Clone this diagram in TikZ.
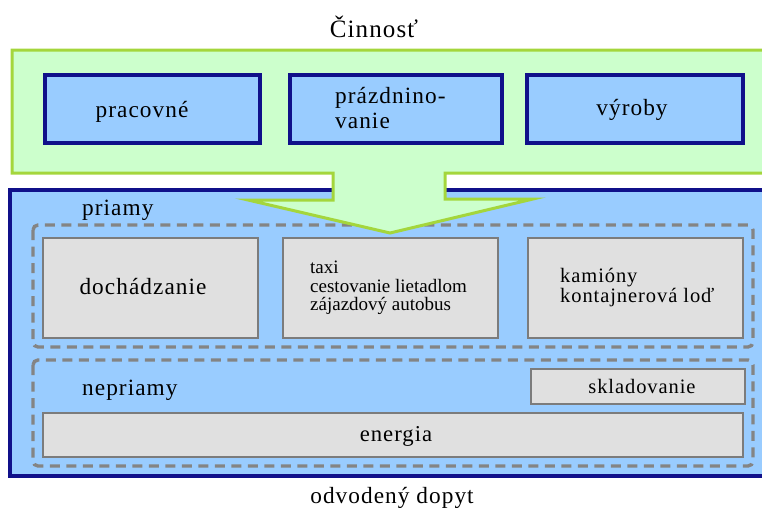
\documentclass[tikz,border=0pt]{standalone}
\usepackage{fontspec}
\setmainfont{Liberation Serif}[LetterSpace=4.5]
\newfontfamily\plainserif{Liberation Serif}
\definecolor{greenfill}{HTML}{CCFFCC}
\definecolor{greenline}{HTML}{A4D63C}
\definecolor{bluefill}{HTML}{99CCFF}
\definecolor{navy}{HTML}{10108A}
\definecolor{greyfill}{HTML}{E0E0E0}
\definecolor{greyline}{HTML}{7C7C7C}
\definecolor{dashgrey}{HTML}{848484}
\begin{document}
\begin{tikzpicture}[x=1pt,y=-1pt,
  topbox/.style={draw=navy,line width=3.5pt,fill=bluefill,inner sep=0pt},
  greybox/.style={draw=greyline,line width=2.2pt,fill=greyfill,inner sep=0pt},
  dashbox/.style={draw=dashgrey,line width=3.4pt,dash pattern=on 10pt off 6.5pt,rounded corners=5pt},
  lbl/.style={font=\fontsize{23.3}{27}\selectfont,inner sep=0pt},
  small/.style={font=\plainserif\fontsize{19}{18.5}\selectfont,inner sep=0pt}]
\useasboundingbox (0,0) rectangle (762,509);
\clip (0,0) rectangle (762,509);
% blue outer box
\draw[fill=bluefill,draw=navy,line width=3.5pt] (10,190) rectangle (790,476);
% dashed groups
\draw[dashbox] (33,225) rectangle (753,347);
\draw[dashbox] (33,360) rectangle (753,466);
% green activity box with arrow
\draw[fill=greenfill,draw=greenline,line width=3pt,line join=miter]
  (12,50) -- (790,50) -- (790,173) -- (445,173) -- (445,199) -- (533,199)
  -- (390,233) -- (248,200) -- (333,200) -- (333,173) -- (12,173) -- cycle;
% top boxes
\node[topbox,minimum width=215pt,minimum height=68pt] (b1) at (152.5,109) {};
\node[topbox,minimum width=212pt,minimum height=68pt] (b2) at (396,109) {};
\node[topbox,minimum width=216pt,minimum height=68pt] (b3) at (635,109) {};
% grey boxes
\node[greybox,minimum width=215pt,minimum height=100pt] (g1) at (150.5,288) {};
\node[greybox,minimum width=215pt,minimum height=100pt] (g2) at (390.5,288) {};
\node[greybox,minimum width=215pt,minimum height=100pt] (g3) at (635.5,288) {};
\node[greybox,minimum width=214pt,minimum height=35pt] (g4) at (638,386.5) {};
\node[greybox,minimum width=700pt,minimum height=44pt] (g5) at (393,435) {};
% texts
\node[lbl,anchor=base,font=\fontsize{25}{30}\selectfont] (title) at (374,37) {Činnosť};
\node[lbl,anchor=base] (t1) at (142,117) {pracovné};
\node[lbl,anchor=base west] (t2a) at (335,103) {prázdnino-};
\node[lbl,anchor=base west] (t2b) at (335,128) {vanie};
\node[lbl,anchor=base] (t3) at (632,115) {výroby};
\node[lbl,anchor=base west] (priamy) at (82,215) {priamy};
\node[lbl,anchor=base] (t4) at (143,294) {dochádzanie};
\node[small,anchor=base west] (t5a) at (310,273) {taxi};
\node[small,anchor=base west] (t5b) at (310,292) {cestovanie lietadlom};
\node[small,anchor=base west] (t5c) at (310,310) {zájazdový autobus};
\node[lbl,anchor=base west,font=\fontsize{20.5}{24}\selectfont] (t6a) at (560,282) {kamióny};
\node[lbl,anchor=base west,font=\fontsize{20.5}{24}\selectfont] (t6b) at (560,302) {kontajnerová loď};
\node[lbl,anchor=base west] (nepriamy) at (82,395) {nepriamy};
\node[lbl,anchor=base,font=\fontsize{20.5}{24}\selectfont] (t7) at (642,393) {skladovanie};
\node[lbl,anchor=base,font=\fontsize{22.7}{27}\selectfont] (t8) at (396,441) {energia};
\node[lbl,anchor=base] (foot) at (392,503) {odvodený dopyt};
\end{tikzpicture}
\end{document}
